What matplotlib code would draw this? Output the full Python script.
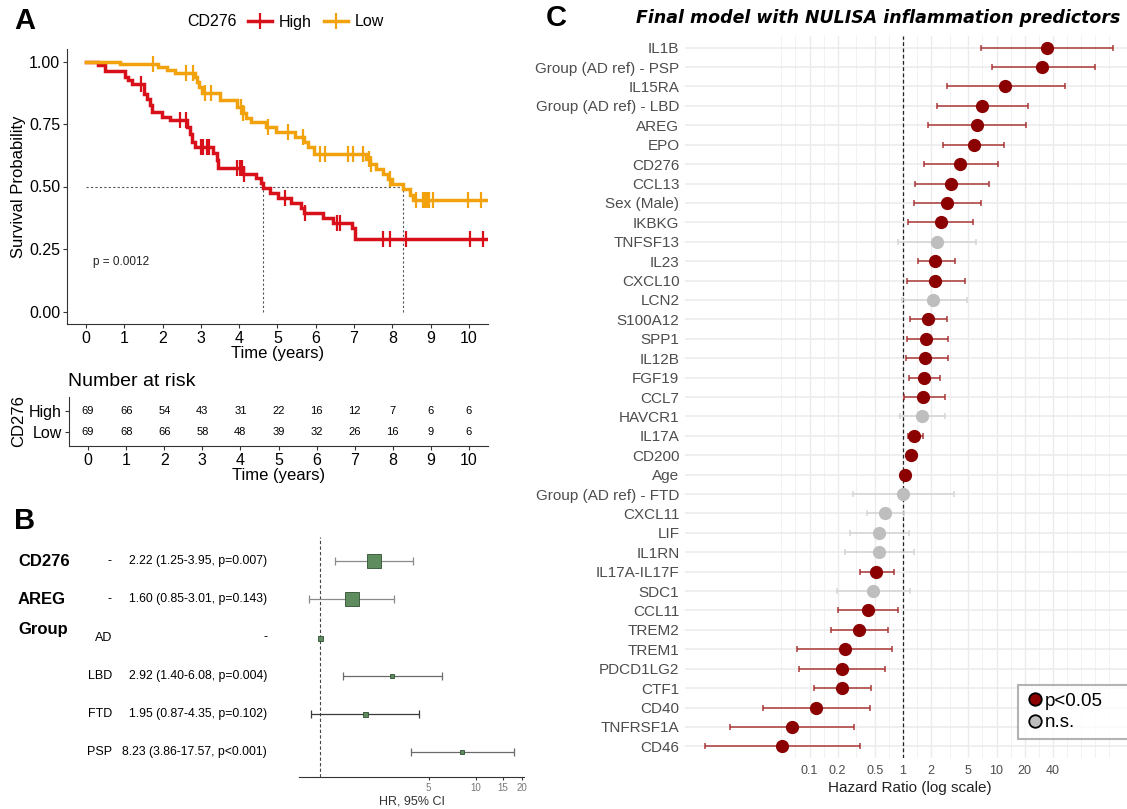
import numpy as np
import matplotlib
matplotlib.use("Agg")
import matplotlib.pyplot as plt
from matplotlib.lines import Line2D
from matplotlib.ticker import NullLocator
from matplotlib.transforms import blended_transform_factory

plt.rcParams['font.family'] = ['Liberation Sans', 'DejaVu Sans']

# ---------------- panel A: Kaplan-Meier, CD276 high / low
high_t = [0, 0.32, 0.5, 1.02, 1.1, 1.19, 1.5, 1.58, 1.67, 1.71, 1.97, 2.19, 2.63, 2.71,
          2.76, 2.85, 3.32, 3.41, 3.45, 4.1, 4.45, 4.58, 4.63, 4.8, 5.02, 5.35, 5.62,
          5.7, 6.2, 6.45, 6.95, 7.02]
high_s = [1.0, 0.985, 0.963, 0.94, 0.925, 0.91, 0.87, 0.85, 0.825, 0.80, 0.78, 0.765,
          0.74, 0.71, 0.68, 0.66, 0.635, 0.605, 0.575, 0.55, 0.535, 0.515, 0.495, 0.475,
          0.455, 0.435, 0.415, 0.395, 0.375, 0.355, 0.335, 0.29]
high_cens = [1.43, 2.45, 2.6, 3.0, 3.05, 3.15, 3.22, 3.93, 4.02, 4.07, 4.12, 5.19, 5.72,
             6.55, 6.64, 7.75, 7.93, 8.36, 10.03, 10.36]

low_t = [0, 0.89, 1.89, 2.1, 2.32, 2.84, 2.89, 2.96, 3.02, 3.5, 3.93, 4.1, 4.19, 4.3,
         4.71, 4.95, 5.45, 5.7, 5.8, 5.95, 7.3, 7.42, 7.58, 7.76, 7.89, 7.98, 8.27,
         8.45, 8.54]
low_s = [1.0, 0.99, 0.98, 0.967, 0.954, 0.937, 0.918, 0.898, 0.875, 0.845, 0.82, 0.795,
         0.775, 0.76, 0.74, 0.72, 0.70, 0.68, 0.66, 0.632, 0.61, 0.59, 0.57, 0.55, 0.53,
         0.51, 0.49, 0.465, 0.445]
low_cens = [1.75, 2.6, 2.8, 3.1, 3.25, 4.05, 4.1, 4.75, 5.27, 5.67, 6.1, 6.25, 6.85,
            6.97, 7.23, 7.4, 7.45, 7.95, 8.63, 8.8, 8.84, 8.89, 8.93, 8.97, 9.06, 9.97,
            10.33]
t_end = 10.45
p_text = "p = 0.0012"

risk_times = [0, 1, 2, 3, 4, 5, 6, 7, 8, 9, 10]
risk_high = [69, 66, 54, 43, 31, 22, 16, 12, 7, 6, 6]
risk_low = [69, 68, 66, 58, 48, 39, 32, 26, 16, 9, 6]

# ---------------- panel B: Cox model forest plot
b_vars = ["CD276", "AREG", "Group", "", "", ""]
b_levels = ["-", "-", "AD", "LBD", "FTD", "PSP"]
b_hr = [2.22, 1.60, 1.0, 2.92, 1.95, 8.23]
b_lo = [1.25, 0.85, np.nan, 1.40, 0.87, 3.86]
b_hi = [3.95, 3.01, np.nan, 6.08, 4.35, 17.57]
b_p = ["0.007", "0.143", "", "0.004", "0.102", "<0.001"]

# ---------------- panel C: final model, NULISA predictors
c_labels = ["IL1B", "Group (AD ref) - PSP", "IL15RA", "Group (AD ref) - LBD", "AREG", "EPO",
            "CD276", "CCL13", "Sex (Male)", "IKBKG", "TNFSF13", "IL23", "CXCL10", "LCN2",
            "S100A12", "SPP1", "IL12B", "FGF19", "CCL7", "HAVCR1", "IL17A", "CD200", "Age",
            "Group (AD ref) - FTD", "CXCL11", "LIF", "IL1RN", "IL17A-IL17F", "SDC1", "CCL11",
            "TREM2", "TREM1", "PDCD1LG2", "CTF1", "CD40", "TNFRSF1A", "CD46"]
c_hr = [34.8, 31.0, 12.4, 7.0, 6.2, 5.7, 4.1, 3.25, 2.96, 2.56, 2.30, 2.2, 2.2, 2.11,
        1.83, 1.78, 1.74, 1.69, 1.65, 1.58, 1.31, 1.21, 1.05, 1.0, 0.64, 0.55, 0.55, 0.52,
        0.48, 0.42, 0.34, 0.237, 0.22, 0.22, 0.118, 0.065, 0.051]
c_lo = [6.8, 8.9, 2.93, 2.33, 1.87, 2.69, 1.66, 1.33, 1.30, 1.13, 0.88, 1.43, 1.1, 0.97,
        1.19, 1.1, 1.07, 1.15, 1.02, 0.94, 1.12, 1.12, 1.02, 0.29, 0.41, 0.27, 0.24, 0.35,
        0.196, 0.2, 0.17, 0.074, 0.077, 0.112, 0.032, 0.014, 0.0076]
c_hi = [178, 112, 53.6, 21.5, 20.5, 12.1, 10.5, 8.4, 6.9, 5.6, 6.1, 3.6, 4.55, 4.87,
        2.96, 3.04, 3.04, 2.49, 2.79, 2.79, 1.65, 1.31, 1.08, 3.48, 1.02, 1.15, 1.30, 0.81,
        1.19, 0.89, 0.69, 0.76, 0.64, 0.455, 0.44, 0.30, 0.35]
c_sig = [True, True, True, True, True, True, True, True, True, True, False, True, True,
         False, True, True, True, True, True, False, True, True, True, False, False, False,
         False, True, False, True, True, True, True, True, True, True, True]
c_breaks = [0.1, 0.2, 0.5, 1, 2, 5, 10, 20, 40]

RED, ORANGE = '#D7101A', '#F2A20C'
W, H = 1127, 809
fig = plt.figure(figsize=(W / 100, H / 100), dpi=100)


def box(l, t, r, b):
    return [l / W, 1 - b / H, (r - l) / W, (b - t) / H]


def surv_at(times, surv, x):
    idx = np.searchsorted(times, x, side='right') - 1
    return np.asarray(surv)[idx]


# ================= A
ax = fig.add_axes(box(67, 49, 488, 324))
medians = []
for t, s, cens, col in [(high_t, high_s, high_cens, RED), (low_t, low_s, low_cens, ORANGE)]:
    ax.step(list(t) + [t_end], list(s) + [s[-1]], where='post', color=col, lw=2.5,
            solid_joinstyle='miter', zorder=3)
    ax.plot(cens, surv_at(t, s, cens), ls='none', marker='|', ms=12, mew=1.6, color=col,
            zorder=4)
    medians.append(t[int(np.argmax(np.asarray(s) <= 0.5))])
ax.plot([0, max(medians)], [0.5, 0.5], ls=(0, (2, 2)), color='#555555', lw=0.8, zorder=1)
for m in medians:
    ax.plot([m, m], [0, 0.5], ls=(0, (2, 2)), color='#555555', lw=0.8, zorder=1)
ax.text(0.18, 0.2, p_text, fontsize=8.5, va='center', color='#222222')
ax.set_xlim(-0.5, 10.5)
ax.set_ylim(-0.05, 1.05)
ax.set_xticks(risk_times)
ax.set_yticks([0, 0.25, 0.5, 0.75, 1.0])
ax.set_yticklabels(['0.00', '0.25', '0.50', '0.75', '1.00'])
ax.tick_params(labelsize=11.5, color='#333333', length=3, width=0.8, pad=2)
for sp in ['top', 'right']:
    ax.spines[sp].set_visible(False)
for sp in ['left', 'bottom']:
    ax.spines[sp].set_color('#333333')
    ax.spines[sp].set_linewidth(0.8)
ax.set_xlabel('Time (years)', fontsize=12, labelpad=0)
ax.set_ylabel('Survival Probability', fontsize=12, labelpad=2)

fig.text(187 / W, 1 - 22 / H, 'CD276', fontsize=11.5, va='center', ha='left')
handles = [Line2D([], [], color=RED, lw=2.5, marker='|', ms=12, mew=1.6),
           Line2D([], [], color=ORANGE, lw=2.5, marker='|', ms=12, mew=1.6)]
fig.legend(handles, ['High', 'Low'], loc='center left',
           bbox_to_anchor=(240 / W, 1 - 22 / H), ncol=2, frameon=False, fontsize=11.5,
           handlelength=1.5, handletextpad=0.4, columnspacing=0.8, borderpad=0)

# risk table
axr = fig.add_axes(box(69, 397, 488, 446))
for i, t in enumerate(risk_times):
    axr.text(t, 1, str(risk_high[i]), ha='center', va='center', fontsize=8)
    axr.text(t, 0, str(risk_low[i]), ha='center', va='center', fontsize=8)
axr.set_xlim(-0.5, 10.5)
axr.set_ylim(-0.67, 1.67)
axr.set_xticks(risk_times)
axr.set_yticks([1, 0])
axr.set_yticklabels(['High', 'Low'])
axr.tick_params(labelsize=11.5, color='#333333', length=3, width=0.8, pad=2)
for sp in ['top', 'right']:
    axr.spines[sp].set_visible(False)
for sp in ['left', 'bottom']:
    axr.spines[sp].set_color('#333333')
    axr.spines[sp].set_linewidth(0.8)
axr.set_xlabel('Time (years)', fontsize=12, labelpad=0)
axr.set_ylabel('CD276', fontsize=12, labelpad=2)
fig.text(68 / W, 1 - 382 / H, 'Number at risk', fontsize=14, va='center', ha='left')

# ================= B
axb = fig.add_axes(box(299, 537, 524, 777))
rows = np.arange(len(b_hr))
box_sizes = [9.5, 9.5, 3.6, 2.4, 3.6, 3.0]
bar_cols = ['#8A8A8A', '#8A8A8A', '#8A8A8A', '#6A6A6A', '#3A3A3A', '#6A6A6A']
for i in rows:
    if not np.isnan(b_lo[i]):
        axb.errorbar(b_hr[i], i, xerr=[[b_hr[i] - b_lo[i]], [b_hi[i] - b_hr[i]]],
                     fmt='none', ecolor=bar_cols[i], elinewidth=0.9, capsize=3, capthick=0.9)
    axb.plot(b_hr[i], i, marker='s', ms=box_sizes[i], mfc='#5E8C5E', mec='#2F4F2F',
             mew=0.6, ls='none', zorder=3)
axb.axvline(1, color='#444444', lw=0.8, ls=(0, (3, 2)), zorder=1)
axb.set_xscale('log')
axb.set_xlim(0.733, 20.5)
axb.set_ylim(5.65, -0.63)
axb.set_xticks([5, 10, 15, 20])
axb.set_xticklabels(['5', '10', '15', '20'])
axb.xaxis.set_minor_locator(NullLocator())
axb.set_yticks([])
axb.tick_params(axis='x', labelsize=7, labelcolor='#777777', length=2, color='#333333', pad=2)
for sp in ['top', 'right', 'left']:
    axb.spines[sp].set_visible(False)
axb.spines['bottom'].set_color('#333333')
axb.set_xlabel('HR, 95% CI', fontsize=9, color='#333333', labelpad=2)

tr = blended_transform_factory(fig.transFigure, axb.transData)
for i in rows:
    if b_vars[i]:
        axb.text(18 / W, i - (0.2 if b_vars[i] == 'Group' else 0), b_vars[i], transform=tr,
                 fontsize=12, fontweight='bold', va='center', ha='left')
    axb.text(112 / W, i, b_levels[i], transform=tr, fontsize=9, va='center', ha='right')
    if np.isnan(b_lo[i]):
        est = '-'
    else:
        p = b_p[i] if b_p[i].startswith('<') else '=' + b_p[i]
        est = f"{b_hr[i]:.2f} ({b_lo[i]:.2f}-{b_hi[i]:.2f}, p{p})"
    axb.text(267 / W, i, est, transform=tr, fontsize=8.8, va='center', ha='right')

# ================= C
axc = fig.add_axes(box(685, 36, 1134, 758))
n = len(c_labels)
yy = np.arange(n)
dec = 93.5
axc.set_xscale('log')
axc.set_xlim(10 ** ((685 - 903) / dec), 10 ** ((1134 - 903) / dec))
axc.set_ylim(n - 0.4, -0.6)
minor = list(np.sqrt(np.array(c_breaks[:-1]) * np.array(c_breaks[1:])))
minor += [0.05, 0.0707, 56.6, 80, 113, 160]
for v in c_breaks:
    axc.axvline(v, color='#EBEBEB', lw=1.0, zorder=0)
for v in minor:
    axc.axvline(v, color='#F2F2F2', lw=0.7, zorder=0)
for y in yy:
    axc.axhline(y, color='#EBEBEB', lw=1.1, zorder=0)
axc.axvline(1, color='#222222', lw=0.9, ls=(0, (3, 2)), zorder=1)
for i in range(n):
    ecol = '#A52A2A' if c_sig[i] else '#D3D3D3'
    pcol = '#8B0000' if c_sig[i] else '#BEBEBE'
    axc.errorbar(c_hr[i], i, xerr=[[c_hr[i] - c_lo[i]], [c_hi[i] - c_hr[i]]], fmt='none',
                 ecolor=ecol, elinewidth=1.2, capsize=2, capthick=1.2, alpha=0.85, zorder=2)
    axc.plot(c_hr[i], i, marker='o', ms=8.5, color=pcol, mec=pcol, ls='none', zorder=3)
axc.set_yticks(yy)
axc.set_yticklabels(c_labels)
axc.set_xticks(c_breaks)
axc.set_xticklabels([f"{v:g}" for v in c_breaks])
axc.xaxis.set_minor_locator(NullLocator())
axc.tick_params(axis='y', labelsize=11, labelcolor='#4D4D4D', length=0, pad=4)
axc.tick_params(axis='x', labelsize=9, labelcolor='#4D4D4D', length=0, pad=5)
for sp in axc.spines.values():
    sp.set_visible(False)
axc.set_xlabel('Hazard Ratio (log scale)', fontsize=11, color='#222222', labelpad=3)
leg_h = [Line2D([], [], marker='o', ls='none', ms=9, mfc='#8B0000', mec='black', mew=1.3),
         Line2D([], [], marker='o', ls='none', ms=9, mfc='#BEBEBE', mec='black', mew=1.3)]
lg = fig.legend(leg_h, ['p<0.05', 'n.s.'], loc='upper left',
                bbox_to_anchor=(1018 / W, 1 - 742 / H, 130 / W, 57 / H), mode='expand',
                fontsize=13.5, fancybox=False, handletextpad=0.05, borderpad=0.4,
                labelspacing=0.25, handlelength=1.0, borderaxespad=0)
lg.get_frame().set_edgecolor('#A0A0A0')
lg.get_frame().set_linewidth(1.5)
fig.text(878 / W, 1 - 18 / H, 'Final model with NULISA inflammation predictors',
         fontsize=12.5, fontweight='bold', style='italic', ha='center', va='center',
         family=['DejaVu Sans'])

# panel letters
for lab, x, y in [('A', 25, 21), ('B', 25, 521), ('C', 556, 18)]:
    fig.text(x / W, 1 - y / H, lab, fontsize=21, fontweight='bold', ha='center',
             va='center')

fig.savefig('out.png', dpi=100)
